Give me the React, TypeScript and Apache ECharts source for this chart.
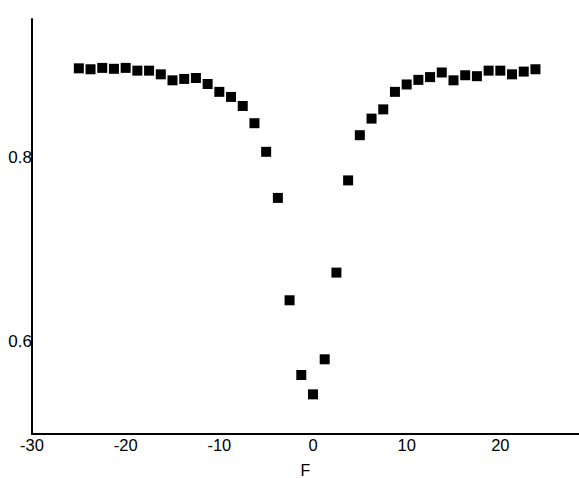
import React, { useEffect, useRef } from "react";
import * as echarts from "echarts";

const xValues = [
  -25, -23.75, -22.5, -21.25, -20, -18.75, -17.5, -16.25, -15, -13.75,
  -12.5, -11.25, -10, -8.75, -7.5, -6.25, -5, -3.75, -2.5, -1.25,
  0, 1.25, 2.5, 3.75, 5, 6.25, 7.5, 8.75, 10, 11.25,
  12.5, 13.75, 15, 16.25, 17.5, 18.75, 20, 21.25, 22.5, 23.75,
];
const yValues = [
  0.8965, 0.8955, 0.897, 0.896, 0.897, 0.894, 0.894, 0.89, 0.8835, 0.885,
  0.886, 0.8795, 0.871, 0.8655, 0.8557, 0.837, 0.806, 0.756, 0.645, 0.564,
  0.543, 0.581, 0.675, 0.775, 0.824, 0.842, 0.852, 0.871, 0.879, 0.884,
  0.887, 0.892, 0.8835, 0.889, 0.888, 0.894, 0.894, 0.89, 0.893, 0.8955,
];
const xTickLabels = [-30, -20, -10, 0, 10, 20];
const yTickLabels = [0.6, 0.8];
const xName = "F";

export default function App() {
  const ref = useRef<HTMLDivElement>(null);
  useEffect(() => {
    if (!ref.current) return;
    const chart = echarts.init(ref.current, null, { renderer: "svg" });
    const font = "'Liberation Sans', Arial, sans-serif";
    chart.setOption({
      animation: false,
      backgroundColor: "#ffffff",
      grid: {
        left: 32,
        top: 19,
        right: 0,
        bottom: 44,
        containLabel: false,
        outerBoundsMode: "none",
      },
      xAxis: {
        type: "value",
        min: -30,
        max: 28.4,
        name: xName,
        nameLocation: "middle",
        nameGap: 28,
        nameTextStyle: { color: "#000", fontSize: 16, fontFamily: font },
        axisLine: { show: true, onZero: false, lineStyle: { color: "#000", width: 2 } },
        axisTick: { show: false },
        splitLine: { show: false },
        axisLabel: {
          customValues: xTickLabels,
          color: "#000",
          fontSize: 16.5,
          fontFamily: font,
          margin: 2,
        },
      },
      yAxis: {
        type: "value",
        min: 0.5,
        max: 0.95,
        axisLine: { show: true, onZero: false, lineStyle: { color: "#000", width: 2 } },
        axisTick: { show: false },
        splitLine: { show: false },
        axisLabel: {
          customValues: yTickLabels,
          formatter: (v: number) => v.toFixed(1),
          color: "#000",
          fontSize: 17,
          fontFamily: font,
          margin: 0,
        },
      },
      series: [
        {
          type: "scatter",
          symbol: "rect",
          symbolSize: 10,
          itemStyle: { color: "#000", opacity: 1 },
          data: xValues.map((x, i) => [x, yValues[i]]),
        },
      ],
    });
    return () => chart.dispose();
  }, []);
  return (
    <div
      ref={ref}
      style={{ position: "fixed", left: 0, top: 0, width: 579, height: 478, background: "#fff" }}
    />
  );
}
